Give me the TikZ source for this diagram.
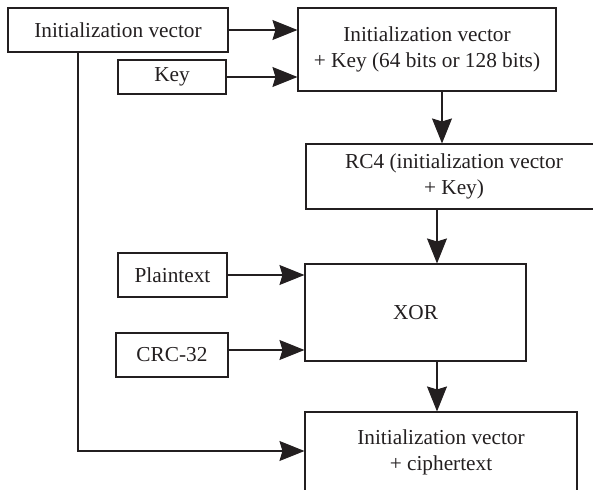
\documentclass[tikz,border=0pt]{standalone}
\usepackage{fontspec}
\setmainfont{Liberation Serif}
\usetikzlibrary{positioning,arrows.meta}
\definecolor{ink}{HTML}{231F20}

\begin{document}
\begin{tikzpicture}[x=1pt, y=-1pt,
  box/.style={draw=ink, line width=1.1pt, align=center, inner sep=0pt, text=ink,
    font=\fontsize{21.3}{26}\selectfont},
  arr/.style={-{Stealth[length=25pt, width=20pt, inset=3pt]}, line width=1.1pt, color=ink}]
\useasboundingbox (0,0) rectangle (593,489);
\node[box, minimum width=220pt, minimum height=44pt] (iv) at (118,30) {Initialization vector};
\node[box, minimum width=108pt, minimum height=34pt] (key) at (172,77) {Key};
\node[box, minimum width=258pt, minimum height=83pt] (ivkey) at (427,49.5) {Initialization vector\\+ Key (64 bits or 128 bits)};
\node[box, minimum width=296pt, minimum height=65pt] (rc4) at (454,176.5) {RC4 (initialization vector\\+ Key)};
\node[box, minimum width=109pt, minimum height=44pt] (plain) at (172.5,275) {Plaintext};
\node[box, minimum width=112pt, minimum height=44pt] (crc) at (172,355) {CRC-32};
\node[box, minimum width=221pt, minimum height=97pt] (xor) at (415.5,312.5) {XOR};
\node[box, minimum width=272pt, minimum height=80pt] (out) at (441,452) {Initialization vector\\+ ciphertext};
% inputs into the first box
\draw[arr] (iv.east) -- (iv.east -| ivkey.west);
\draw[arr] (key.east) -- (key.east -| ivkey.west);
% down the chain
\draw[arr] ([xshift=15pt]ivkey.south) -- ([xshift=15pt]ivkey.south |- rc4.north);
\draw[arr] ([xshift=21.5pt]xor.north |- rc4.south) -- ([xshift=21.5pt]xor.north);
\draw[arr] (plain.east) -- (plain.east -| xor.west);
\draw[arr] ([yshift=5pt]crc.east) -- ([yshift=5pt]crc.east -| xor.west);
\draw[arr] ([xshift=21.5pt]xor.south) -- ([xshift=21.5pt]xor.south |- out.north);
% IV goes along with the ciphertext
\draw[arr] ([xshift=-40pt]iv.south) -- ([xshift=-40pt]iv.south |- 0,451) -- (out.west |- 0,451);
\end{tikzpicture}
\end{document}
